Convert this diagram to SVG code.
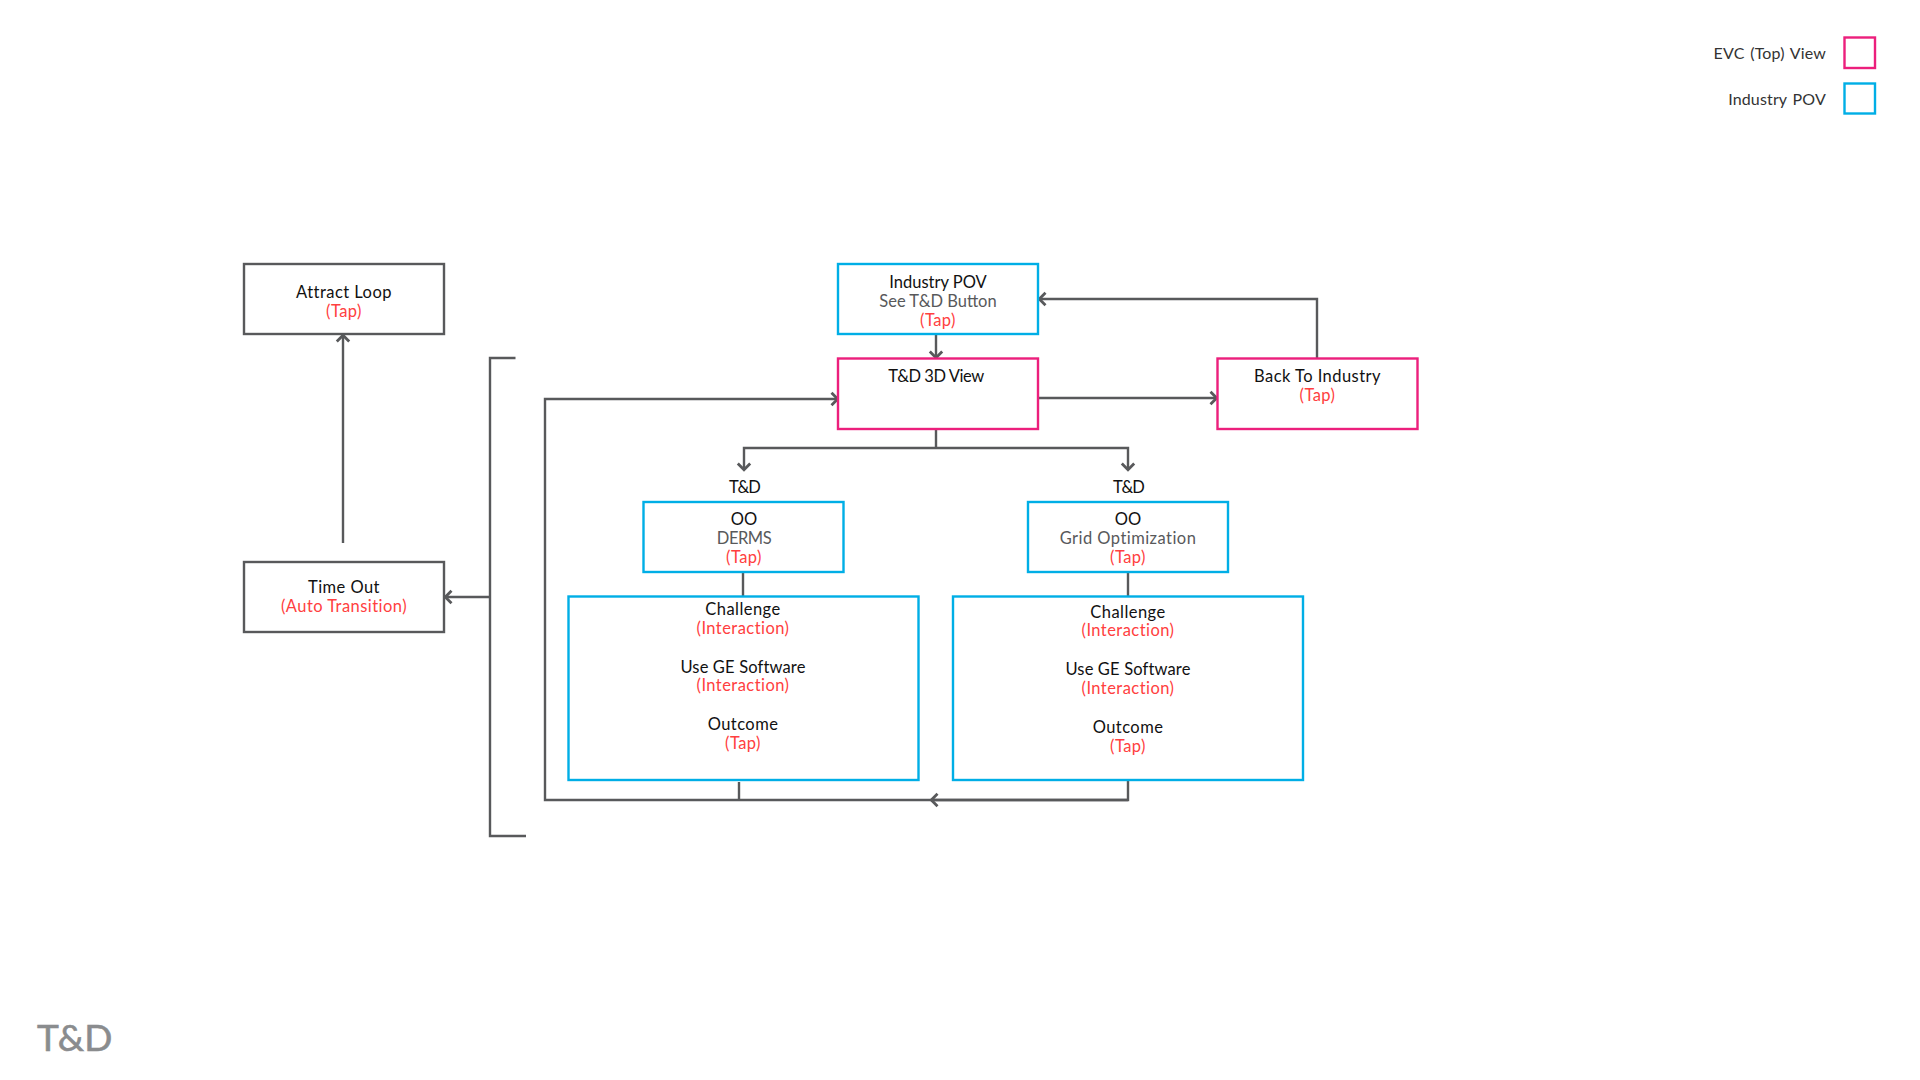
<svg xmlns="http://www.w3.org/2000/svg" width="1920" height="1080" viewBox="0 0 1920 1080">
<style>
text{font-family:"Lato","Noto Sans",sans-serif;font-size:16.5px;text-anchor:middle;fill:#111}
.g{fill:#58595b}.r{fill:#ff4040;letter-spacing:.45px}
.w{letter-spacing:.45px}.n{letter-spacing:-.45px}.t{letter-spacing:-.8px}
rect{fill:#fff;stroke-width:2.4}
.k{stroke:#58595b}.b{stroke:#00aee6}.p{stroke:#ec1f7c}
.c{fill:none;stroke:#58595b;stroke-width:2.4}
.l{text-anchor:end;fill:#333;font-size:16px;letter-spacing:.15px;word-spacing:1.5px}
</style>
<defs><marker id="a" markerUnits="userSpaceOnUse" markerWidth="16" markerHeight="16" refX="10" refY="8" orient="auto"><path d="M3.500 1.800L9.700 8L3.500 14.200" fill="none" stroke="#58595b" stroke-width="2.800"/></marker></defs>
<g id="connectors">
<path class="c" d="M343 543V335" marker-end="url(#a)"/>
<path class="c" d="M515.500 358H490V836H526"/>
<path class="c" d="M490 597H445" marker-end="url(#a)"/>
<path class="c" d="M1128 780V800H545V399H838" marker-end="url(#a)"/>
<path class="c" d="M1128 800H931" marker-end="url(#a)"/>
<path class="c" d="M739 782V800"/>
<path class="c" d="M936 334V358" marker-end="url(#a)"/>
<path class="c" d="M1038 398H1217" marker-end="url(#a)"/>
<path class="c" d="M1317 358V299H1039" marker-end="url(#a)"/>
<path class="c" d="M936 429V448"/>
<path class="c" d="M936 448H744V470" marker-end="url(#a)"/>
<path class="c" d="M936 448H1128V470" marker-end="url(#a)"/>
<path class="c" d="M743 572V596"/>
<path class="c" d="M1128 572V596"/>
</g>
<g id="attract"><rect class="k" x="244" y="264" width="200" height="70"/><text class="w" x="344" y="298">Attract Loop</text><text class="r" x="344" y="316.700">(Tap)</text></g>
<g id="timeout"><rect class="k" x="244" y="562" width="200" height="70"/><text class="w" x="344" y="593">Time Out</text><text class="r" x="344" y="611.700">(Auto Transition)</text></g>
<g id="industry"><rect class="b" x="838" y="264" width="200" height="70"/><text x="938" y="287.800">Industry POV</text><text class="g" x="938" y="306.500">See T&amp;D Button</text><text class="r" x="938" y="325.700">(Tap)</text></g>
<g id="view3d"><rect class="p" x="838" y="358.500" width="200" height="70.500"/><text class="n" x="936" y="382">T&amp;D 3D View</text></g>
<g id="back"><rect class="p" x="1217.500" y="358.500" width="200" height="70.500"/><text class="w" x="1317.500" y="382">Back To Industry</text><text class="r" x="1317.500" y="401.300">(Tap)</text></g>
<g id="label-left"><text class="t" x="744.500" y="492.800">T&amp;D</text></g>
<g id="label-right"><text class="t" x="1128.500" y="492.800">T&amp;D</text></g>
<g id="derms"><rect class="b" x="643.500" y="502" width="200" height="70"/><text x="744" y="524.800">OO</text><text class="g n" x="744" y="543.500">DERMS</text><text class="r" x="744" y="562.700">(Tap)</text></g>
<g id="grid"><rect class="b" x="1028" y="502" width="200" height="70"/><text x="1128" y="524.800">OO</text><text class="g w" x="1128" y="543.500">Grid Optimization</text><text class="r" x="1128" y="562.700">(Tap)</text></g>
<g id="detail-left"><rect class="b" x="568.500" y="596.500" width="350" height="183.500"/><text class="w" x="743" y="615">Challenge</text><text class="r" x="743" y="634">(Interaction)</text><text x="743" y="672.500" style="letter-spacing:.15px">Use GE Software</text><text class="r" x="743" y="691.300">(Interaction)</text><text class="w" x="743" y="730">Outcome</text><text class="r" x="743" y="749">(Tap)</text></g>
<g id="detail-right"><rect class="b" x="953" y="596.500" width="350" height="183.500"/><text class="w" x="1128" y="617.800">Challenge</text><text class="r" x="1128" y="636.300">(Interaction)</text><text x="1128" y="675" style="letter-spacing:.15px">Use GE Software</text><text class="r" x="1128" y="694">(Interaction)</text><text class="w" x="1128" y="732.500">Outcome</text><text class="r" x="1128" y="751.700">(Tap)</text></g>
<g id="legend-evc"><text class="l" x="1826" y="59">EVC (Top) View</text><rect class="p" x="1844.500" y="37.500" width="30.500" height="30.500"/></g>
<g id="legend-industry"><text class="l" x="1826" y="105">Industry POV</text><rect class="b" x="1844.500" y="83.500" width="30.500" height="30"/></g>
<g id="title"><text x="37" y="1051" style="text-anchor:start;font-size:37px;fill:#8a8c8e;stroke:#8a8c8e;stroke-width:.6">T&amp;D</text></g>
</svg>
